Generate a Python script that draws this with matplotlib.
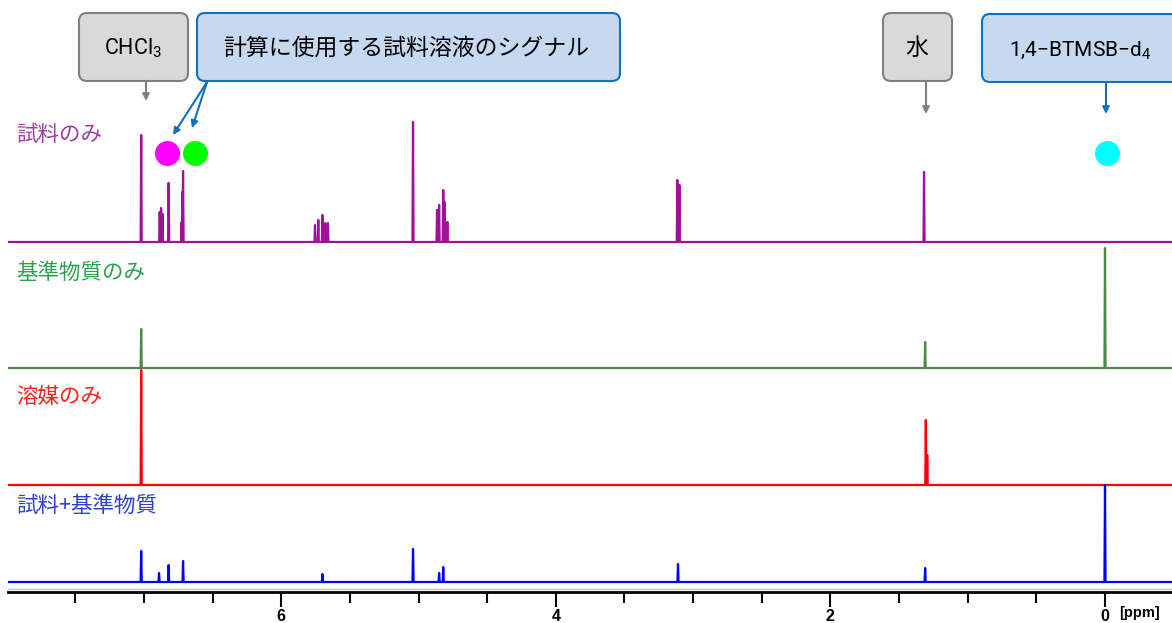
import matplotlib.pyplot as plt
from matplotlib.patches import FancyBboxPatch

plt.rcParams['font.family'] = ['Noto Sans CJK JP', 'DejaVu Sans']
plt.rcParams['mathtext.fontset'] = 'custom'
plt.rcParams['mathtext.rm'] = 'Roboto'

# peak lists: (ppm, height) for each spectrum
sample_ppm = [7.02, 6.885, 6.875, 6.865, 6.82, 6.725, 6.72, 6.715,
              5.754, 5.73, 5.70, 5.68, 5.66, 5.04,
              4.865, 4.85, 4.82, 4.81, 4.79, 3.115, 3.10, 1.318]
sample_h = [107, 30, 34, 28, 59, 20, 50, 71,
            17, 22, 27, 19, 19, 120,
            32, 37, 52, 40, 20, 62, 57, 70]

ref_ppm = [7.02, 1.31, 0.0]
ref_h = [39, 26, 120]

solvent_ppm = [7.02, 1.305, 1.295]
solvent_h = [115, 65, 30]

mix_ppm = [7.02, 6.89, 6.82, 6.715, 5.70, 5.04, 4.85, 4.82, 3.11, 1.31, 0.0]
mix_h = [31, 9, 17, 21, 8, 33, 9, 15, 18, 14, 97]

names = ['試料のみ', '基準物質のみ', '溶媒のみ', '試料+基準物質']
line_colors = ['#a0109a', '#4a8a4a', '#ff0000', '#0000ff']
label_colors = ['#a040a0', '#30a050', '#ff2020', '#3040d0']
baselines = [350, 224, 107, 10]
label_y = [457, 319, 195, 86]


def spectrum(ppm, h, xmax=8.0, xmin=-0.5, w=0.004):
    pairs = sorted(zip(ppm, h), reverse=True)
    xs, ys = [xmax], [0]
    for p, v in pairs:
        xs += [p + w, p, p - w]
        ys += [0, v, 0]
    xs.append(xmin)
    ys.append(0)
    return xs, ys


fig = plt.figure(figsize=(11.72, 6.23), dpi=100)
ax = fig.add_axes([8 / 1172, 31 / 623, 1 - 8 / 1172, 592 / 623])
ax.set_xlim(7.99, -0.488)
ax.set_ylim(0, 592)

data = [(sample_ppm, sample_h), (ref_ppm, ref_h),
        (solvent_ppm, solvent_h), (mix_ppm, mix_h)]
for (p, h), base, c, lc, name, ly in zip(data, baselines, line_colors,
                                          label_colors, names, label_y):
    xs, ys = spectrum(p, h)
    ax.plot(xs, [base + y for y in ys], color=c, lw=1.6)
    ax.text(7.93, ly, name, color=lc, fontsize=15.5, va='center', ha='left')

# markers for the signals used
ax.plot([6.83], [439], 'o', color='#ff00ff', ms=17)
ax.plot([6.63], [439], 'o', color='#00ff00', ms=17)
ax.plot([-0.015], [439], 'o', color='#00ffff', ms=17)

ax.axhline(3, color='#c8c8c8', lw=1)
for s in ['top', 'right', 'left']:
    ax.spines[s].set_visible(False)
ax.spines['bottom'].set_linewidth(2)
ax.set_yticks([])
ax.set_xticks([6, 4, 2, 0])
ax.set_xticks([7.5, 7, 6.5, 5.5, 5, 4.5, 3.5, 3, 2.5, 1.5, 1, 0.5], minor=True)
ax.tick_params(axis='x', which='major', length=11, width=1.5, pad=1,
               labelsize=11.5)
ax.tick_params(axis='x', which='minor', length=8, width=1.5)
for t in ax.get_xticklabels():
    t.set_fontweight('bold')
    t.set_family('Liberation Sans')
fig.text(1140 / 1172, 1 - 613 / 623, '[ppm]', fontsize=10.5, fontweight='bold',
         family='Liberation Sans', ha='center', va='center')

# callout boxes in pixel coordinates
ov = fig.add_axes([0, 0, 1, 1])
ov.set_xlim(0, 1172)
ov.set_ylim(623, 0)
ov.axis('off')
ov.patch.set_alpha(0)

boxes = [(79, 13, 109, 68, '#d9d9d9', '#808080'),
         (197, 13, 423, 68, '#c6d9f0', '#1070c0'),
         (883, 13, 69, 68, '#d9d9d9', '#808080'),
         (982, 14, 220, 68, '#c6d9f0', '#1070c0')]
for x, y, w, hgt, fc, ec in boxes:
    ov.add_patch(FancyBboxPatch((x, y), w, hgt,
                                boxstyle='round,pad=0,rounding_size=8',
                                fc=fc, ec=ec, lw=1.5))

ov.text(133, 48, r'$\mathregular{CHCl_3}$', fontsize=15.5, ha='center',
        va='center', family='Roboto')
ov.text(406, 48, '計算に使用する試料溶液のシグナル', fontsize=16.5,
        ha='center', va='center')
ov.text(917, 48, '水', fontsize=16.5, ha='center', va='center')
ov.text(1080, 50, r'$\mathregular{1{,}4{-}BTMSB{-}d_4}$', fontsize=15,
        ha='center', va='center', family='Roboto')

arrows = [((146, 81), (146, 101), '#808080'),
          ((207, 82), (173, 135), '#1070c0'),
          ((207, 82), (192, 128), '#1070c0'),
          ((926, 81), (926, 114), '#808080'),
          ((1106, 82), (1106, 114), '#1070c0')]
for start, tip, c in arrows:
    ov.annotate('', xy=tip, xytext=start,
                arrowprops=dict(arrowstyle='-|>', color=c, lw=1.5,
                                mutation_scale=10, shrinkA=0, shrinkB=0))

fig.savefig('out.png', dpi=100)
